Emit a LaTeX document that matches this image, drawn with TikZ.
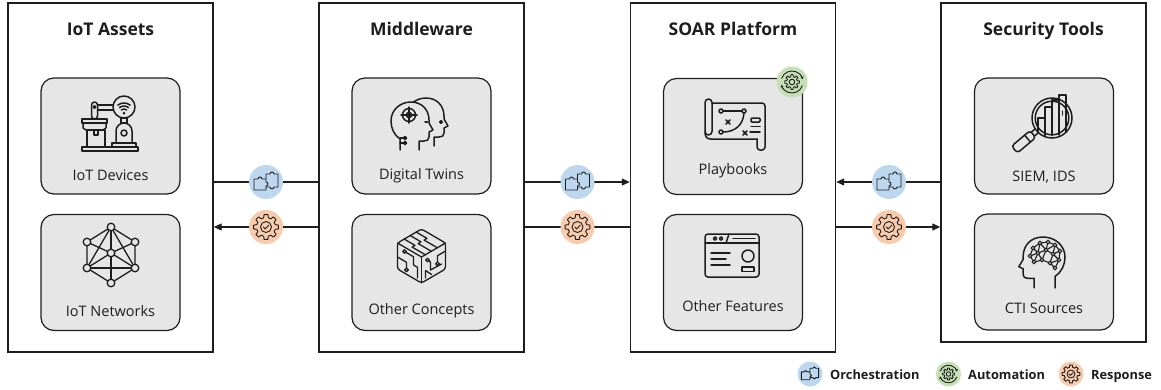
\documentclass[tikz,border=0pt]{standalone}
\usepackage{fontspec}
\setmainfont{Open Sans}
\usetikzlibrary{arrows.meta,calc}

\definecolor{ink}{HTML}{1E1E1E}
\definecolor{cardfill}{HTML}{E6E6E6}
\definecolor{orchblue}{HTML}{BDD7EE}
\definecolor{autogreen}{HTML}{C5E0B4}
\definecolor{resporange}{HTML}{F8CBAD}

\tikzset{
  panel/.style={draw=ink, line width=1.4pt, minimum width=205pt, inner sep=0pt},
  card/.style={draw=ink, fill=cardfill, line width=1.2pt, rounded corners=13pt,
    minimum width=139pt, minimum height=116pt, inner sep=0pt},
  paneltitle/.style={font=\bfseries\fontsize{17.5}{20}\selectfont, text=ink, anchor=base, inner sep=0pt},
  cardtext/.style={font=\fontsize{14.5}{17}\selectfont, text=ink, anchor=base, inner sep=0pt},
  legendtext/.style={font=\bfseries\fontsize{12.8}{15}\selectfont, text=ink, anchor=base west, inner sep=0pt},
  wire/.style={draw=ink, line width=1.1pt},
  arrowend/.style={-{Triangle[length=8pt,width=7pt]}},
  badge/.style={circle, fill=#1, minimum size=34pt, inner sep=0pt},
  smallbadge/.style={circle, fill=#1, minimum size=25pt, inner sep=0pt},
  icon/.style={ink, line width=1.5pt, line join=round, line cap=round},
  glyph/.style={ink, line width=0.9pt, line join=round, line cap=round},
  % two interlocking puzzle pieces
  pics/puzzle/.style={code={
    \draw[glyph] (-12,-3) -- (-8,-3) arc[start angle=180, end angle=360, radius=2]
      -- (0,-3) -- (0,0) arc[start angle=270, end angle=450, radius=2] -- (0,8) -- (-12,8) -- cycle;
    \draw[glyph] (0,-3) -- (0,-8) -- (4,-8) arc[start angle=180, end angle=360, radius=2]
      -- (12,-8) -- (12,5) -- (8,5) arc[start angle=0, end angle=180, radius=2] -- (0,5);
  }},
  % gear with a check mark
  pics/gearcheck/.style={code={
    \draw[glyph] (-14:9.5) \foreach \a in {0,45,...,315}{
        -- ({\a-9}:12.5) -- ({\a+9}:12.5) -- ({\a+14}:9.5)
        arc[start angle={\a+14}, end angle={\a+31}, radius=9.5] } -- cycle;
    \draw[glyph] (0,0) circle (5.5);
    \draw[glyph] (-2.6,0) -- (-0.8,1.9) -- (2.7,-1.8);
  }},
  % gear with two circular arrows
  pics/gearcycle/.style={code={
    \draw[glyph] (-14:5.4) \foreach \a in {0,45,...,315}{
        -- ({\a-9}:7.4) -- ({\a+9}:7.4) -- ({\a+14}:5.4)
        arc[start angle={\a+14}, end angle={\a+31}, radius=5.4] } -- cycle;
    \draw[glyph] (0,0) circle (2.8);
    \draw[glyph, -{Stealth[length=2.6pt,width=3pt]}] (20:11) arc[start angle=20, end angle=165, radius=11];
    \draw[glyph, -{Stealth[length=2.6pt,width=3pt]}] (200:11) arc[start angle=200, end angle=345, radius=11];
  }},
  % head profile facing right, origin at the top left
  pics/head/.style={code={
    \draw[icon, fill=cardfill] (9,48) -- (9,37) .. controls (3,33) and (0,26) .. (0,19)
      .. controls (0,8) and (9,0) .. (20,0) .. controls (31,0) and (38,8) .. (38,18)
      -- (38,21) -- (42,28) -- (38,30) -- (38,35) .. controls (38,38) and (36,39) .. (33,39)
      -- (28,39) -- (28,48);
  }},
}

\begin{document}
\begin{tikzpicture}[x=1pt, y=-1pt]
\useasboundingbox (0,0) rectangle (1161,389);
\fill[white] (0,0) rectangle (1161,389);

% ---------- panels ----------
\node[panel, minimum height=349pt] (assets) at (110.5,177.5) {};
\node[panel, minimum height=349pt] (mw)     at (421.5,177.5) {};
\node[panel, minimum height=349pt] (soar)   at (733,177.5) {};
\node[panel, minimum height=339pt] (tools)  at (1043.5,172.5) {};

\node[paneltitle] (assetsT) at (110.5,35) {IoT Assets};
\node[paneltitle] (mwT)     at (421.5,35) {Middleware};
\node[paneltitle] (soarT)   at (733,35) {SOAR Platform};
\node[paneltitle] (toolsT)  at (1043.5,35) {Security Tools};

% ---------- cards ----------
\node[card] (dev)  at (110.5,136) {};
\node[card] (net)  at (110.5,272.5) {};
\node[card] (twin) at (421.5,136) {};
\node[card] (conc) at (421.5,272.5) {};
\node[card] (play) at (733,136.5) {};
\node[card] (feat) at (733,272.5) {};
\node[card] (siem) at (1044,136) {};
\node[card] (cti)  at (1044,272) {};

\node[cardtext] (devT)  at (110.5,180) {IoT Devices};
\node[cardtext] (netT)  at (110.5,316) {IoT Networks};
\node[cardtext] (twinT) at (421.5,179) {Digital Twins};
\node[cardtext] (concT) at (421.5,314) {Other Concepts};
\node[cardtext] (playT) at (733,174) {Playbooks};
\node[cardtext] (featT) at (733,311) {Other Features};
\node[cardtext] (siemT) at (1044,181) {SIEM, IDS};
\node[cardtext] (ctiT)  at (1044,313) {CTI Sources};

% ---------- connectors ----------
\coordinate (p1) at (266,182);
\coordinate (p2) at (266,227);
\coordinate (p3) at (577.5,182);
\coordinate (p4) at (577.5,227);
\coordinate (p5) at (889,182);
\coordinate (p6) at (889,227);

\draw[wire] (assets.east |- p1) -- (mw.west |- p1);
\draw[wire, arrowend] (mw.west |- p2) -- (assets.east |- p2);
\draw[wire, arrowend] (mw.east |- p3) -- (soar.west |- p3);
\draw[wire] (mw.east |- p4) -- (soar.west |- p4);
\draw[wire, arrowend] (tools.west |- p5) -- (soar.east |- p5);
\draw[wire, arrowend] (soar.east |- p6) -- (tools.west |- p6);

\node[badge=orchblue]   (b1) at (p1) {}; \pic at (b1) {puzzle};
\node[badge=resporange] (b2) at (p2) {}; \pic at (b2) {gearcheck};
\node[badge=orchblue]   (b3) at (p3) {}; \pic at (b3) {puzzle};
\node[badge=resporange] (b4) at (p4) {}; \pic at (b4) {gearcheck};
\node[badge=orchblue]   (b5) at (p5) {}; \pic at (b5) {puzzle};
\node[badge=resporange] (b6) at (p6) {}; \pic at (b6) {gearcheck};

\node[badge=autogreen, minimum size=31pt] (auto) at (792,82) {}; \pic at (auto) {gearcycle};

% ---------- legend ----------
\node[smallbadge=orchblue]   (k1) at (810,374) {}; \pic[scale=0.72] at (k1) {puzzle};
\node[legendtext] (k1T) at (830,379) {Orchestration};
\node[smallbadge=autogreen]  (k2) at (948.5,374) {}; \pic[scale=0.8] at (k2) {gearcycle};
\node[legendtext] (k2T) at (968,379) {Automation};
\node[smallbadge=resporange] (k3) at (1071,374) {}; \pic[scale=0.72] at (k3) {gearcheck};
\node[legendtext] (k3T) at (1091,379) {Response};

% ---------- icon: IoT device (robot arm and connected unit) ----------
\begin{scope}[shift={(110,124)}, icon]
  \draw (-28,23) rectangle (28,27);
  \draw (-23,6) rectangle (-5,23);
  \draw (-16,6) -- (-16,11) -- (-12,11) -- (-12,6);
  \draw (-28,-5) rectangle (-3,-1);
  \draw (-27,-1) -- (-27,4) -- (-24,6);
  \draw (-4,-1) -- (-4,4) -- (-7,6);
  \draw[rounded corners=3] (-18.5,-22) rectangle (-12.5,-5);
  \draw (-15.5,-17) circle (1.4);
  \draw (-12.5,-19) -- (3.2,-19);
  \draw (-12.5,-14) -- (3.2,-14);
  \draw (14,-17) circle (11);
  \fill (14,-11) circle (1.5);
  \draw (14,-11) ++(230:4) arc[start angle=230, end angle=310, radius=4];
  \draw (14,-11) ++(230:7) arc[start angle=230, end angle=310, radius=7];
  \draw (14,-11) ++(232:10) arc[start angle=232, end angle=308, radius=10];
  \draw (11,-6) rectangle (17,-1);
  \draw (6,19) -- (6,7) arc[start angle=180, end angle=360, radius=8] -- (22,19);
  \draw (14,9) circle (3);
  \draw (2,19) rectangle (26,23);
\end{scope}

% ---------- icon: IoT network mesh ----------
\begin{scope}[shift={(111,255)}, icon, line width=1.3pt]
  \coordinate (nT) at (0,-28);
  \coordinate (nUL) at (-24,-13);
  \coordinate (nUR) at (24,-13);
  \coordinate (nC) at (0,-2);
  \coordinate (nLL) at (-24,13);
  \coordinate (nLR) at (24,13);
  \coordinate (nB) at (0,28);
  \draw (nT) -- (nUL) -- (nLL) -- (nB) -- (nLR) -- (nUR) -- cycle;
  \draw (nT) -- (nC) -- (nB);
  \draw (nLL) -- (nT) -- (nLR);
  \draw (nUL) -- (nC) -- (nUR);
  \draw (nLL) -- (nC) -- (nLR);
  \draw (nLL) -- (nLR);
  \foreach \n in {nT,nUL,nUR,nC,nLL,nLR,nB}
    \draw[fill=cardfill] (\n) circle (3.8);
\end{scope}

% ---------- icon: digital twins (two heads) ----------
\begin{scope}[shift={(420,124)}, icon]
  \pic at (-14,-26) {head};
  \pic at (-29,-22) {head};
  \draw (21,-2) circle (1.3);
  \draw (5,-2) -- (7.5,-2);
  \draw (-11,-9) circle (6.5);
  \draw (-11,-9) circle (2.6);
  \draw (-19,-9) -- (-3,-9);
  \draw (-11,-17) -- (-11,-1);
  \draw (-20,14) -- (-16.5,14);
  \draw (-20,19) -- (-16.5,19);
  \draw[fill=cardfill] (-15,14) circle (1.5);
  \draw[fill=cardfill] (-15,19) circle (1.5);
\end{scope}

% ---------- icon: circuit cube ----------
\begin{scope}[shift={(421.5,256)}, icon, line width=1.3pt]
  \draw[rounded corners=2.5] (0,-27) -- (24,-13) -- (24,13) -- (0,27) -- (-24,13) -- (-24,-13) -- cycle;
  \draw (-24,-13) -- (0,1) -- (24,-13);
  \draw (0,1) -- (0,27);
  \foreach \s in {0.22,0.47,0.72}
    \draw ($(0,-27)+\s*(-24,14)$) -- ++(10.8,6.3) -- ++(-2.9,1.7)
          -- ($(24,-13)+\s*(-24,14)+0.12*(-24,14)$);
  \draw (-24,1) -- (-15,6.3) -- (-15,12);
  \draw[fill=cardfill] (-15,13.8) circle (1.8);
  \draw[fill=cardfill] (-17,-4.5) circle (1.8);
  \draw (-15.4,-3.6) -- (-8,0.7) -- (-8,9) -- (-4,11.3) -- (-4,22);
  \draw (24,-5) -- (16,-0.3) -- (16,6);
  \draw[fill=cardfill] (16,7.8) circle (1.8);
  \draw[fill=cardfill] (6,4) circle (1.8);
  \draw (7.6,5) -- (9,6) -- (9,14) -- (20,8);
  \draw (4,22) -- (4,14.5) -- (10,18.5);
\end{scope}

% ---------- icon: playbook scroll ----------
\begin{scope}[shift={(735,124)}, icon]
  \draw[rounded corners=3.5] (-30,-25) rectangle (-23,11);
  \draw[rounded corners=3] (-23,-21) -- (30,-21) -- (30,26) -- (22,26) -- (22,15);
  \draw (-30,8) .. controls (-30,13) and (-28,15) .. (-24,15) -- (22,15);
  \draw (-14,-13) circle (2);
  \draw (9,-13) circle (2);
  \draw (-12,-13) -- (7,-13);
  \draw (-14,8) circle (2);
  \draw (-12,8) .. controls (-1,8) and (8,2) .. (9,-11);
  \draw (-9,-4) -- (-5,0) (-9,0) -- (-5,-4);
  \draw (8,7) -- (12,11) (8,11) -- (12,7);
  \draw[rounded corners=1] (16,-6) rectangle (25,-2);
  \draw (16,2.5) -- (25,2.5);
  \draw (15,8) -- (25,8);
\end{scope}

% ---------- icon: application window ----------
\begin{scope}[shift={(732,256)}, icon]
  \draw[rounded corners=3] (-27,-22) rectangle (27,21);
  \draw (-27,-13) -- (27,-13);
  \draw (-17,-17.5) circle (1.7);
  \draw (-11,-17.5) circle (1.7);
  \draw (-6,-13) -- (-3,-22);
  \draw (1,-17.5) -- (23,-17.5);
  \draw (-21,-3) -- (-2,-3);
  \draw (-21,3) -- (-6,3);
  \draw (-21,9) -- (-2,9);
  \draw (16,0) circle (6);
  \draw (10,11) rectangle (22,15.5);
\end{scope}

% ---------- icon: magnifier over bar chart ----------
\begin{scope}[shift={(1043,123)}, icon]
  \draw (9,-5) circle (20);
  \draw (9,-5) circle (16.8);
  \draw (-5,10) -- (-5,-5) -- (2,-5) -- (2,12.5);
  \draw (2,-5) -- (2,-16) -- (9,-16) -- (9,12.5);
  \draw (9,-16) -- (9,-23) -- (16,-23) -- (16,12);
  \draw (16,-23) -- (16,-28) -- (23,-28) -- (23,9);
  \draw (19.5,-12) -- (19.5,-8);
  \begin{scope}[shift={(-6.3,7.9)}, rotate=220]
    \draw (0,-2.5) -- (5,-2.5) (0,2.5) -- (5,2.5);
    \draw[rounded corners=3] (5,-4.5) rectangle (29,4.5);
    \draw (12,-4.5) -- (12,4.5);
  \end{scope}
\end{scope}

% ---------- icon: head with neural network ----------
\begin{scope}[shift={(1041,262)}, icon]
  \pic[xscale=-1.1, yscale=1.06] at (24,-25) {head};
  \begin{scope}[line width=1.1pt]
    \coordinate (c1) at (-8,-14);  \coordinate (c2) at (-1,-19);
    \coordinate (c3) at (7,-20);   \coordinate (c4) at (14,-17);
    \coordinate (c5) at (19,-11);  \coordinate (c6) at (-11,-6);
    \coordinate (c7) at (-3,-9);   \coordinate (c8) at (5,-12);
    \coordinate (c9) at (12,-8);   \coordinate (c10) at (18,-2);
    \coordinate (c11) at (-7,0);   \coordinate (c12) at (1,-2);
    \coordinate (c13) at (9,1);    \coordinate (c14) at (14,6);
    \foreach \u/\v in {c1/c2,c2/c3,c3/c4,c4/c5,c1/c6,c1/c7,c2/c7,c2/c8,c3/c8,c4/c8,
        c4/c9,c5/c9,c5/c10,c6/c7,c7/c8,c8/c9,c9/c10,c6/c11,c7/c11,c7/c12,c8/c12,
        c9/c13,c12/c13,c13/c10,c11/c12,c13/c14,c10/c14}
      \draw (\u) -- (\v);
    \foreach \n in {c1,c2,c3,c4,c5,c6,c7,c8,c9,c10,c11,c12,c13,c14}
      \draw[fill=cardfill] (\n) circle (1.9);
  \end{scope}
\end{scope}

\end{tikzpicture}
\end{document}
